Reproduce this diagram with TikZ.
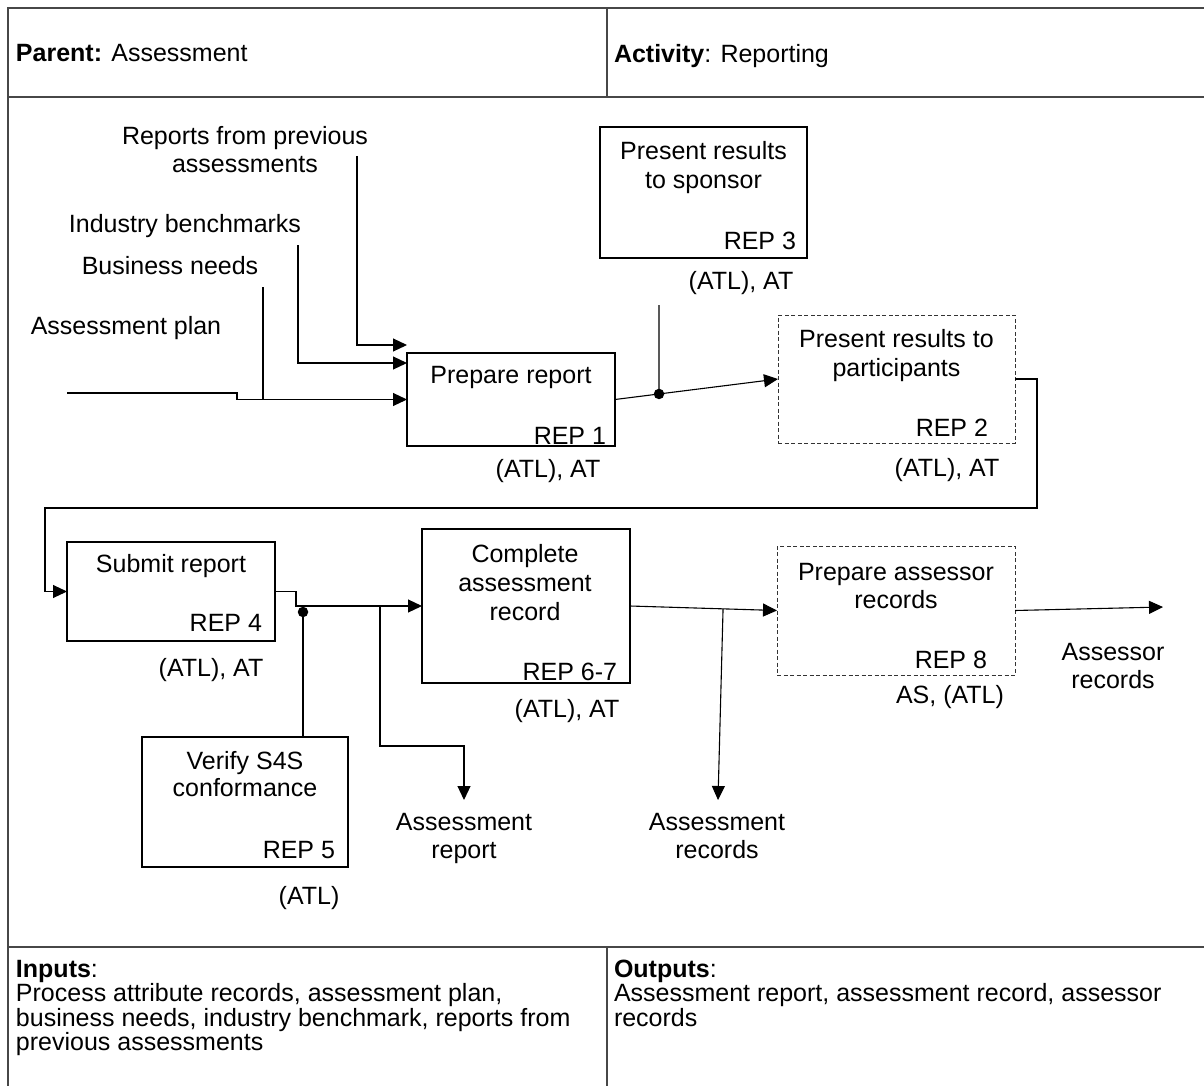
\documentclass[tikz,border=0pt]{standalone}
\usepackage{fontspec}
\setmainfont{Liberation Sans}
\usetikzlibrary{arrows.meta,calc}
\begin{document}
\begin{tikzpicture}[x=1pt,y=-1pt,
  every node/.style={inner sep=0pt, outer sep=0pt, font=\fontsize{25}{29}\selectfont},
  frameline/.style={draw=black!72, line width=1.6pt},
  procbox/.style={draw=black, line width=1.2pt},
  dashbox/.style={draw=black!80, line width=1pt, dash pattern=on 4pt off 2.5pt},
  flow/.style={draw=black, line width=1.1pt},
  arr/.style={flow, -{Triangle[length=14pt,width=13pt]}},
  junction/.style={circle, fill=black, minimum size=10.5pt, inner sep=0pt},
  lbl/.style={anchor=north, align=center},
  idlbl/.style={anchor=north east},
  formtext/.style={anchor=north west, align=left, font=\fontsize{25}{24.5}\selectfont},
]
\useasboundingbox (0,0) rectangle (1204,1086);
\clip (0,0) rectangle (1204,1086);

% form frame
\draw[frameline] (8,1100) -- (8,8) -- (1220,8);
\draw[frameline] (8,97) -- (1220,97);
\draw[frameline] (607,8) -- (607,97);
\draw[frameline] (8,947) -- (1220,947);
\draw[frameline] (607,947) -- (607,1100);

% header and footer texts
\node[anchor=north west] (parent) at (16,44) {\textbf{Parent:} Assessment};
\node[anchor=north west] (activity) at (614,44) {\textbf{Activity}: Reporting};
\node[formtext] (inputs) at (16,960)
  {\textbf{Inputs}:\\Process attribute records, assessment plan,\\business needs, industry benchmark, reports from\\previous assessments};
\node[formtext] (outputs) at (614,960)
  {\textbf{Outputs}:\\Assessment report, assessment record, assessor\\records};

% activity boxes
\node[procbox, minimum width=208pt, minimum height=93pt] (rep1) at (511,399.5) {};
\node[procbox, minimum width=207pt, minimum height=131pt] (rep3) at (703.5,192.5) {};
\node[dashbox, minimum width=237pt, minimum height=128pt] (rep2) at (896.5,379) {};
\node[procbox, minimum width=208pt, minimum height=99pt] (rep4) at (171,591.5) {};
\node[procbox, minimum width=208pt, minimum height=154pt] (rep67) at (526,606) {};
\node[dashbox, minimum width=238pt, minimum height=129pt] (rep8) at (896,610.5) {};
\node[procbox, minimum width=206pt, minimum height=130pt] (rep5) at (245,802) {};

% box titles, identifiers and roles
\node[lbl] (t1) at (511,366) {Prepare report};
\node[idlbl] (id1) at (606,427) {REP 1};
\node[lbl] (r1) at (548,459) {(ATL), AT};

\node[lbl] (t3) at (703.5,141) {Present results\\to sponsor};
\node[idlbl] (id3) at (796,232) {REP 3};
\node[lbl] (r3) at (741,271) {(ATL), AT};

\node[lbl] (t2) at (896.5,329) {Present results to\\participants};
\node[idlbl] (id2) at (988,419) {REP 2};
\node[lbl] (r2) at (947,458) {(ATL), AT};

\node[lbl] (t4) at (171,554) {Submit report};
\node[idlbl] (id4) at (262,614) {REP 4};
\node[lbl] (r4) at (211,658) {(ATL), AT};

\node[lbl] (t67) at (525,544) {Complete\\assessment\\record};
\node[idlbl] (id67) at (617,663) {REP 6-7};
\node[lbl] (r67) at (567,699) {(ATL), AT};

\node[lbl, font=\fontsize{25}{28}\selectfont] (t8) at (896,563) {Prepare assessor\\records};
\node[idlbl] (id8) at (987,651) {REP 8};
\node[lbl] (r8) at (950,685) {AS, (ATL)};

\node[lbl, font=\fontsize{25}{27}\selectfont] (t5) at (245,751) {Verify S4S\\conformance};
\node[idlbl] (id5) at (335,841) {REP 5};
\node[lbl] (r5) at (309,886) {(ATL)};

% input and output labels
\node[lbl, font=\fontsize{25}{28}\selectfont] (lrep) at (245,126) {Reports from previous\\assessments};
\node[lbl] (lbench) at (185,214) {Industry benchmarks};
\node[lbl] (lneeds) at (170,256) {Business needs};
\node[lbl] (lplan) at (126,316) {Assessment plan};
\node[lbl, font=\fontsize{25}{28}\selectfont] (lreport) at (464,813) {Assessment\\report};
\node[lbl, font=\fontsize{25}{28}\selectfont] (lrecords) at (717,813) {Assessment\\records};
\node[lbl, font=\fontsize{25}{28}\selectfont] (lassessor) at (1113,643) {Assessor\\records};

% free ends of connectors
\coordinate (srcRep) at (357,156);
\coordinate (srcBench) at (298,245);
\coordinate (srcNeeds) at (263,287);
\coordinate (srcPlan) at (67,393);
\coordinate (ctl3) at (659,305);
\coordinate (outReport) at (464,800);
\coordinate (outRecords) at (718,800);
\coordinate (outAssessor) at (1163,607);

% inputs to REP 1
\draw[arr] (srcRep) -- (357,345) -- ([yshift=8pt]rep1.north west);
\draw[arr] (srcBench) -- (298,363) -- ([yshift=-10pt]rep1.north west);
\draw[arr] (srcPlan) -- (237,393) -- (237,399.5) -- (rep1.west);
\draw[flow] (srcNeeds) -- (263,399.5);

% REP 1 -> REP 2 with REP 3 joining
\draw[arr] (rep1.east) -- (rep2.west);
\node[junction] (j1) at ($(rep1.east)!0.27!(rep2.west)$) {};
\draw[flow] (ctl3) -- (j1.center);

% REP 2 -> REP 4
\draw[arr] (rep2.east) -- (1037,379) -- (1037,508) -- (45,508) -- (45,591.5) -- (rep4.west);

% REP 4 -> REP 6-7 with REP 5 joining
\draw[arr] (rep4.east) -- (296,591.5) -- (296,606) -- (rep67.west);
\node[junction] (j2) at (303,612) {};
\draw[flow] (j2.center) -- (j2 |- rep5.north);
\coordinate (b1) at (380,606);
\draw[arr] (b1) -- (380,746) -- (464,746) -- (outReport);

% REP 6-7 -> REP 8 and outputs
\draw[arr] (rep67.east) -- (rep8.west);
\coordinate (b2) at ($(rep67.east)!0.633!(rep8.west)$);
\draw[arr] (b2) -- (outRecords);
\draw[arr] (rep8.east) -- (outAssessor);
\end{tikzpicture}
\end{document}
